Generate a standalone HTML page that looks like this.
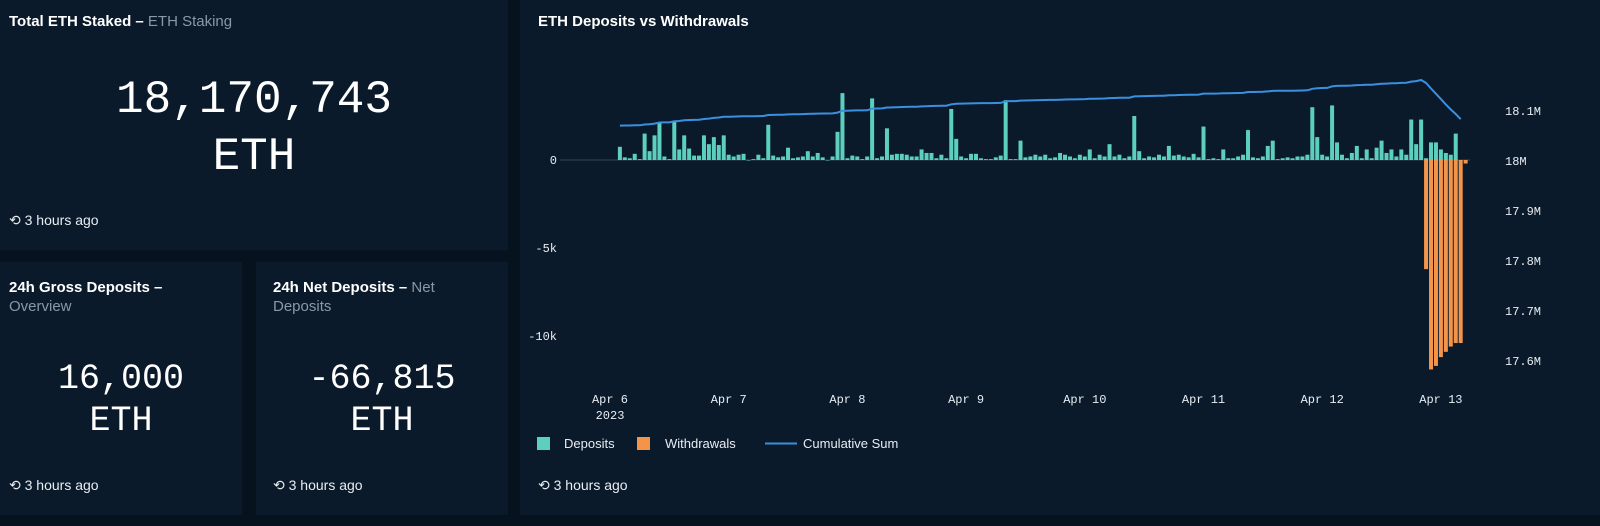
<!DOCTYPE html>
<html><head><meta charset="utf-8"><style>
body{margin:0;width:1600px;height:526px;background:#07121f;overflow:hidden;font-family:"Liberation Sans",sans-serif;color:#fff;position:relative}
.p{position:absolute;background:#0b1a2b}
.t{position:absolute;left:9px;top:12px;font-size:15px;font-weight:bold;line-height:19px}
.t span{color:#8a97a8;font-weight:normal}
.big{position:absolute;left:0;right:0;text-align:center;font-family:"Liberation Mono",monospace}
.ago{position:absolute;left:9px;font-size:14px;color:#e8edf2}
</style></head><body>
<div class="p" style="left:0;top:0;width:508px;height:250px">
 <div class="t">Total ETH Staked – <span>ETH Staking</span></div>
 <div class="big" style="top:72px;font-size:46px;line-height:57px">18,170,743<br>ETH</div>
 <div class="ago" style="top:212px">⟲ 3 hours ago</div>
</div>
<div class="p" style="left:0;top:262px;width:242px;height:253px">
 <div class="t" style="top:16px">24h Gross Deposits –<br><span>Overview</span></div>
 <div class="big" style="top:96px;font-size:35px;line-height:42px">16,000<br>ETH</div>
 <div class="ago" style="top:215px">⟲ 3 hours ago</div>
</div>
<div class="p" style="left:256px;top:262px;width:252px;height:253px">
 <div class="t" style="left:17px;top:16px">24h Net Deposits – <span>Net<br>Deposits</span></div>
 <div class="big" style="top:96px;font-size:35px;line-height:42px">-66,815<br>ETH</div>
 <div class="ago" style="left:17px;top:215px">⟲ 3 hours ago</div>
</div>
<div class="p" style="left:520px;top:0;width:1080px;height:515px">
 <div class="t" style="left:18px">ETH Deposits vs Withdrawals</div>
 <div class="ago" style="left:18px;top:477px">⟲ 3 hours ago</div>
</div>
<svg id="c" width="1600" height="526" style="position:absolute;left:0;top:0"></svg>
<script>
const depStart=2;
const deposits=[0.75,0.15,0.1,0.35,0.05,1.5,0.5,1.4,2.1,0.2,0.05,2.2,0.6,1.4,0.65,0.25,0.25,1.4,0.9,1.3,0.85,1.4,
0.3,0.2,0.3,0.35,0,0.05,0.3,0.1,2.0,0.25,0.15,0.2,0.7,0.1,0.15,0.2,0.5,0.2,0.4,0.15,0,0.2,1.6,3.8,
0.1,0.25,0.2,0.05,0.2,3.5,0.1,0.2,1.8,0.3,0.35,0.35,0.3,0.2,0.2,0.6,0.4,0.4,0.1,0.3,0.1,2.9,1.2,
0.2,0.1,0.35,0.35,0.1,0.05,0.05,0.15,0.25,3.4,0.05,0.05,1.1,0.15,0.2,0.3,0.2,0.3,0.1,0.15,0.4,0.3,0.2,0.1,
0.3,0.2,0.6,0.1,0.3,0.2,0.9,0.2,0.3,0.1,0.2,2.5,0.5,0.1,0.2,0.15,0.3,0.2,0.8,0.25,0.3,0.2,0.15,0.35,
0.15,1.9,0.05,0.1,0.05,0.6,0.1,0.1,0.2,0.3,1.7,0.15,0.1,0.2,0.8,1.1,0.05,0.1,0.15,0.1,0.2,0.2,0.3,3.0,
1.3,0.3,0.2,3.1,1.0,0.3,0.1,0.4,0.8,0.1,0.6,0.1,0.7,1.1,0.4,0.6,0.2,0.6,0.3,2.3,0.9,2.3,
0.1,1.0,1.0,0.6,0.4,0.3,1.5,0];
const wdStart=165;
const withdrawals=[6.2,11.9,11.7,11.2,10.9,10.6,10.4,10.4,0.2];
const cumStart=18.068;
const leftTicks=[0,-5,-10];
const leftTickLabels=["0","-5k","-10k"];
const rightTicks=[18.1,18,17.9,17.8,17.7,17.6];
const rightTickLabels=["18.1M","18M","17.9M","17.8M","17.7M","17.6M"];
const dayLabels=["Apr 6","Apr 7","Apr 8","Apr 9","Apr 10","Apr 11","Apr 12","Apr 13"];
const X0=610,DAY=118.7;
const xh=h=>X0+h*DAY/24;
const yL=v=>160-v*17.6;
const yR=v=>160-(v-18)*500;
const svg=document.getElementById('c');const NS='http://www.w3.org/2000/svg';
function mk(t,a,txt){const e=document.createElementNS(NS,t);for(const k in a)e.setAttribute(k,a[k]);if(txt!=null)e.textContent=txt;svg.appendChild(e);return e;}
let e=mk('line',{x1:560,x2:1470,y1:160,y2:160,stroke:'#3a4858','stroke-width':1});


leftTicks.forEach((v,i)=>{const t=mk('text',{x:557,y:yL(v)+4,'text-anchor':'end',fill:'#e8edf2','font-size':12,'font-family':'Liberation Mono,monospace'},leftTickLabels[i]);

});
rightTicks.forEach((v,i)=>{const t=mk('text',{x:1505,y:yR(v)+5,fill:'#e8edf2','font-size':12,'font-family':'Liberation Mono,monospace'},rightTickLabels[i]);

});
dayLabels.forEach((d,i)=>{const t=mk('text',{x:X0+i*DAY,y:403,'text-anchor':'middle',fill:'#e8edf2','font-size':12,'font-family':'Liberation Mono,monospace'},d);

});
e=mk('text',{x:X0,y:419,'text-anchor':'middle',fill:'#e8edf2','font-size':12,'font-family':'Liberation Mono,monospace'},'2023');


deposits.forEach((v,i)=>{const x=xh(depStart+i);const r=mk('rect',{x:x-2,y:yL(v),width:4,height:Math.max(0.5,160-yL(v)),fill:'#5ccfbf'});

});
withdrawals.forEach((v,i)=>{const x=xh(wdStart+i);const r=mk('rect',{x:x-2,y:160,width:4,height:yL(-v)-160,fill:'#f2944a'});

});
let cum=cumStart,pts=[];const last=depStart+deposits.length;
for(let h=depStart;h<last;h++){cum+=(deposits[h-depStart]||0)/1000;const w=(h>=wdStart&&h<wdStart+withdrawals.length)?withdrawals[h-wdStart]:0;cum-=w/1000;pts.push(xh(h).toFixed(1)+','+yR(cum).toFixed(1));}
e=mk('polyline',{points:pts.join(' '),fill:'none',stroke:'#3b8fe0','stroke-width':2});


const lg=[['rect','#5ccfbf','Deposits',537,564],['rect','#f2944a','Withdrawals',637,665],['line','#3b8fe0','Cumulative Sum',0,803]];
lg.forEach(l=>{let s;if(l[0]=='rect')s=mk('rect',{x:l[3],y:437,width:13,height:13,fill:l[1]});else s=mk('line',{x1:765,x2:797,y1:443.5,y2:443.5,stroke:l[1],'stroke-width':2});


const t=mk('text',{x:l[4],y:448,fill:'#e8edf2','font-size':13,'font-family':'Liberation Sans,sans-serif'},l[2]);

});
</script>
</body></html>
